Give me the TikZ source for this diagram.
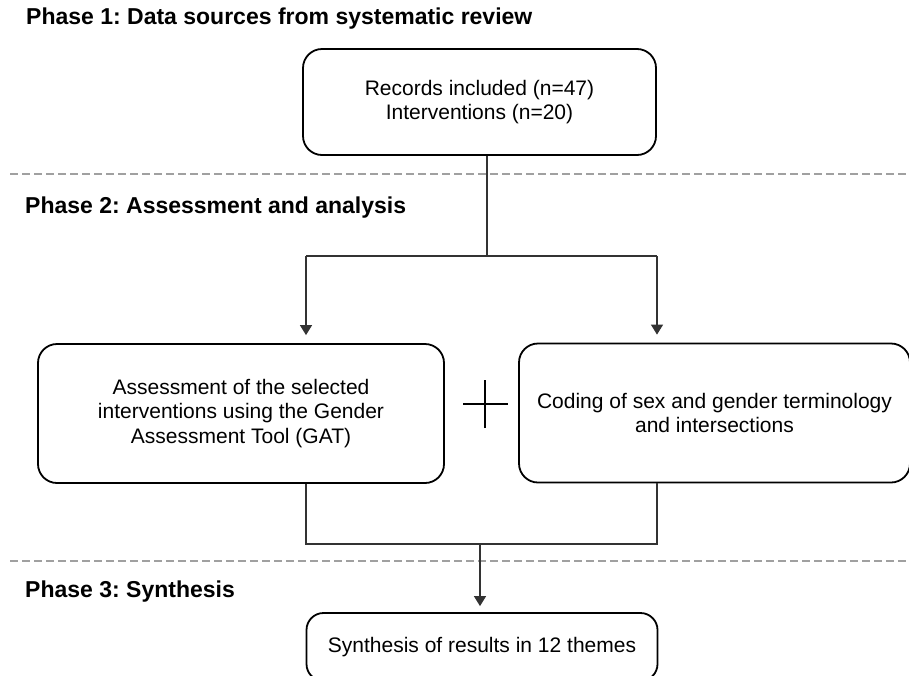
\documentclass[tikz,border=0pt]{standalone}
\usepackage{fontspec}
\setmainfont{Liberation Sans}
\usetikzlibrary{arrows.meta}
\definecolor{linegray}{HTML}{333333}
\definecolor{dashgray}{HTML}{A0A0A0}
\tikzset{
  box/.style={draw=black, line width=1.8pt, rounded corners=19pt, align=center,
    font=\fontsize{21}{24.5}\selectfont, inner sep=0pt},
  conn/.style={draw=linegray, line width=1.3pt},
  arr/.style={conn, -{Triangle[width=12pt,length=10pt]}},
  phase/.style={anchor=west, font=\fontsize{23}{27}\selectfont\bfseries, inner sep=0pt},
  sep/.style={draw=dashgray, line width=1.2pt, dash pattern=on 8pt off 4pt}
}
\frenchspacing
\begin{document}
\begin{tikzpicture}[x=1pt,y=-1pt]
\useasboundingbox (0,0) rectangle (909,675);
\clip (0,0) rectangle (909,675);
\fill[white] (0,0) rectangle (909,675);

% phase titles
\node[phase] (p1) at (26,19) {Phase 1: Data sources from systematic review};
\node[phase] (p2) at (25,208) {Phase 2: Assessment and analysis};
\node[phase] (p3) at (25,592) {Phase 3: Synthesis};

% separators
\path[sep] (10,174) -- (909,174);
\path[sep] (10,561) -- (909,561);

% boxes
\node[box, minimum width=353pt, minimum height=106pt] (top) at (479.5,102)
  {Records included (n=47)\\Interventions (n=20)};
\node[box, minimum width=406pt, minimum height=139pt] (left) at (241,413.5)
  {Assessment of the selected\\interventions using the Gender\\Assessment Tool (GAT)};
\node[box, minimum width=391pt, minimum height=139pt] (right) at (714.5,413)
  {Coding of sex and gender terminology\\and intersections};
\node[box, minimum width=351pt, minimum height=68pt, rounded corners=17pt] (bottom) at (482,647)
  {Synthesis of results in 12 themes};

% connectors phase 1 -> phase 2
\coordinate (j1) at (487,256);
\coordinate (aL) at (306,256);
\coordinate (aR) at (657,256);
\path[conn] (j1 |- top.south) -- (j1);
\path[conn] (aL) -- (aR);
\path[arr, shorten >=8pt] (aL) -- (aL |- left.north);
\path[arr, shorten >=8pt] (aR) -- (aR |- right.north);

% plus sign
\coordinate (plus) at (485,404);
\path[draw=black, line width=1.3pt] ([xshift=-22pt]plus) -- ([xshift=23pt]plus)
  ([yshift=-24pt]plus) -- ([yshift=24pt]plus);

% connectors phase 2 -> phase 3
\coordinate (bL) at (306,544);
\coordinate (bR) at (657,544);
\coordinate (bM) at (480,544);
\path[conn] (bL |- left.south) -- (bL) -- (bR) -- (bR |- right.south);
\path[arr, shorten >=6pt] (bM) -- (bM |- bottom.north);
\end{tikzpicture}
\end{document}
